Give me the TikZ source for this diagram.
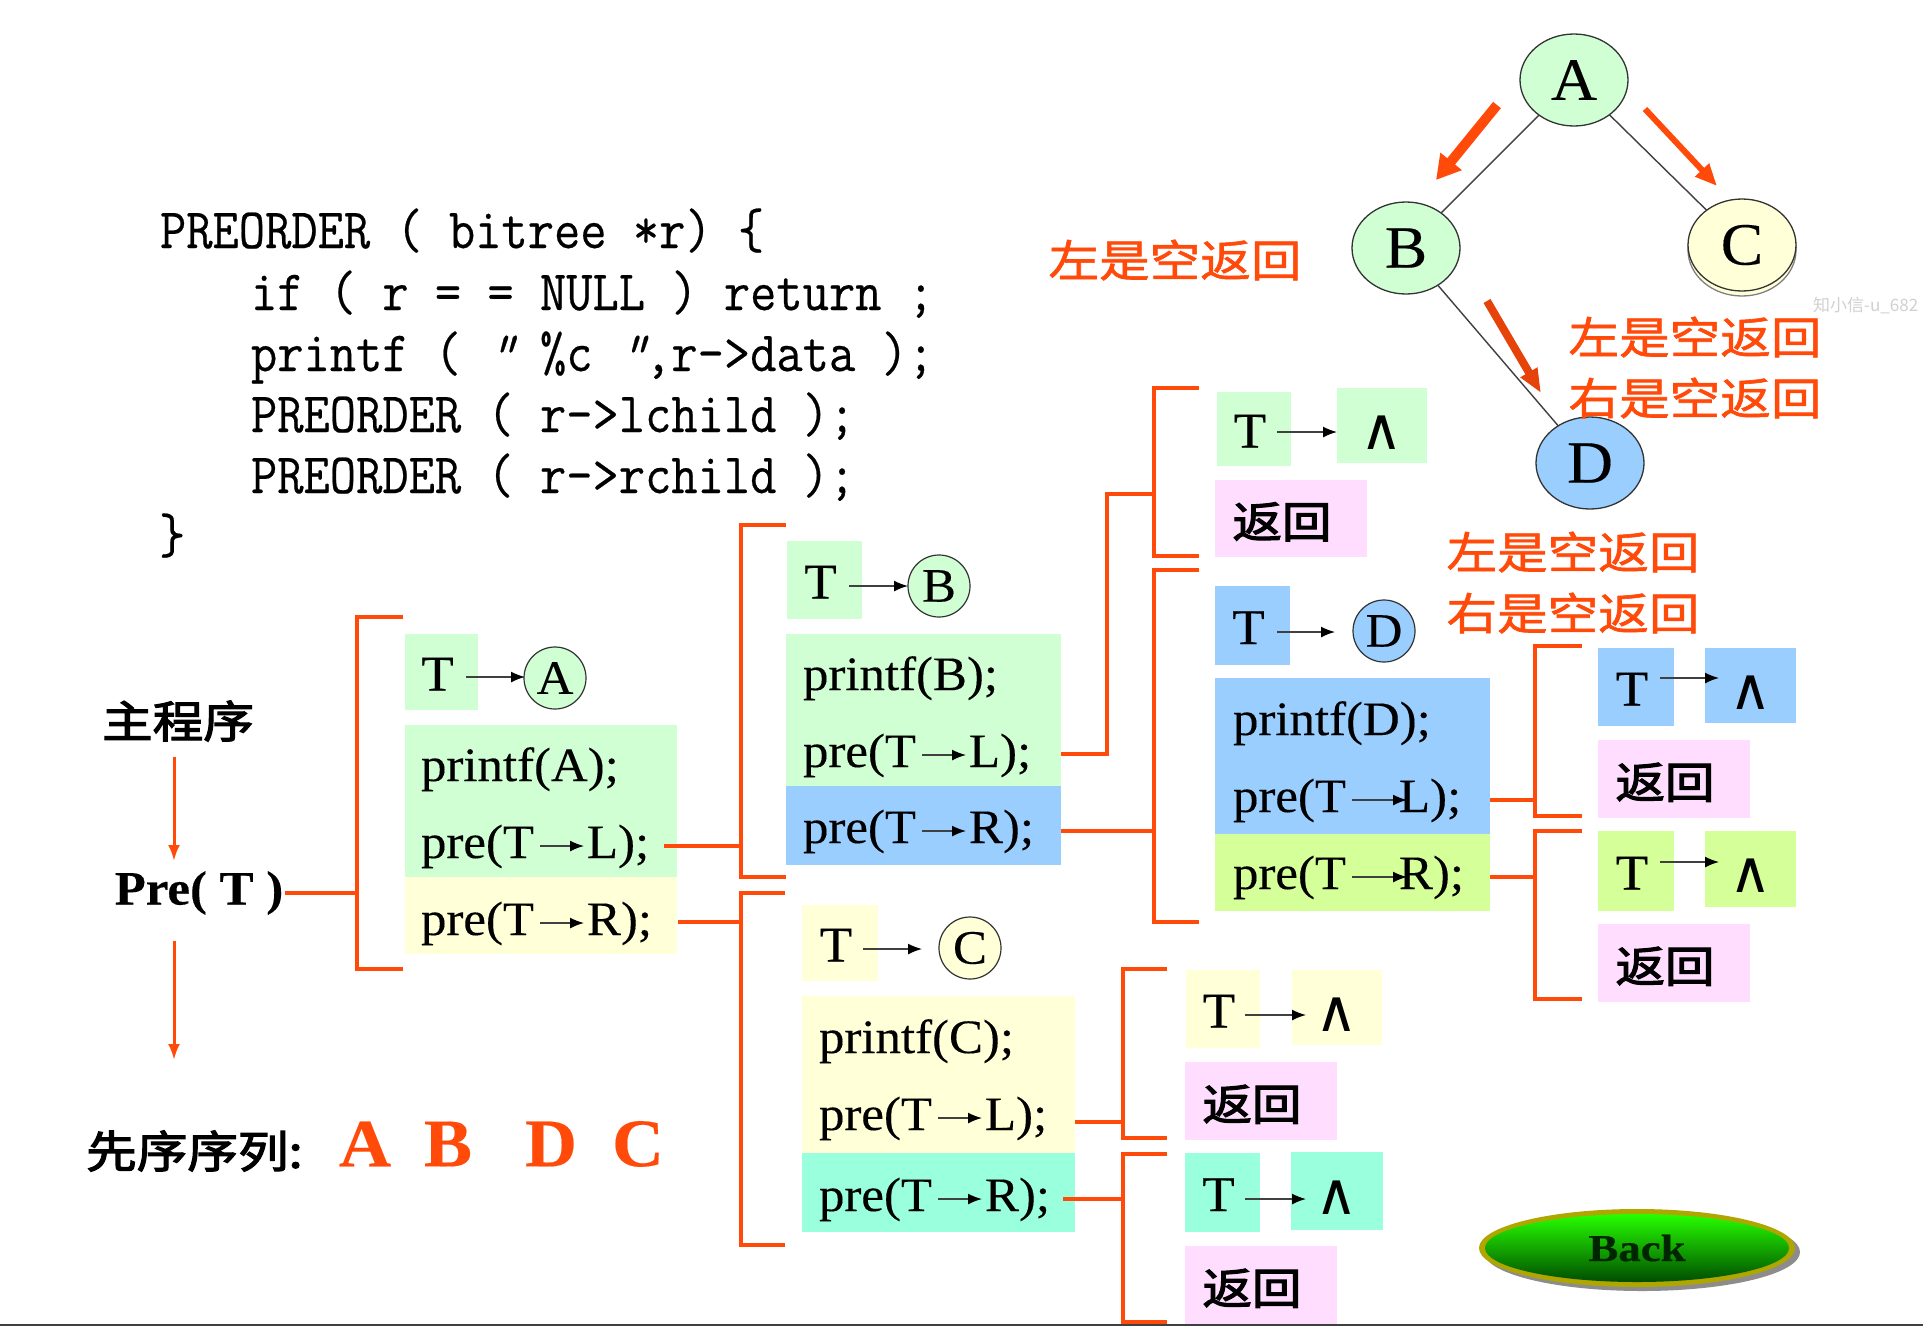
\documentclass[tikz,border=0pt]{standalone}
\usepackage{fontspec}
\usetikzlibrary{arrows.meta,shapes.geometric}
\setmainfont[FakeStretch=1.06,FakeBold=0.25]{Liberation Serif}
\newfontfamily\cjk[FakeStretch=1.15,FakeBold=1.4]{Noto Sans CJK SC}
\newfontfamily\cjkb[FakeStretch=1.15,FakeBold=2.8]{Noto Sans CJK SC}
\newfontfamily\wmfont{Noto Sans CJK SC}
\newfontfamily\codefont[FakeStretch=0.895,FakeBold=0.4]{Latin Modern Mono}
\newfontfamily\logicfont{DejaVu Sans}
\newfontfamily\backfont[FakeStretch=1.18,FakeBold=0.5]{Liberation Serif}
\newcommand\fs[1]{\fontsize{#1}{#1}\selectfont}
\definecolor{cgreen}{HTML}{D0FFD4}
\definecolor{cblue}{HTML}{99CEFF}
\definecolor{cyellow}{HTML}{FFFFD8}
\definecolor{cpink}{HTML}{FFDDFF}
\definecolor{cteal}{HTML}{99FFDD}
\definecolor{clime}{HTML}{D4FF99}
\definecolor{corange}{HTML}{FF4A0A}
\tikzset{
  txt/.style={anchor=base west,inner sep=0pt,outer sep=0pt,font=\fs{48}},
  code/.style={anchor=base west,inner sep=0pt,outer sep=0pt,font=\codefont\fs{57}},
  blockbox/.style={rectangle,inner sep=0pt,outer sep=0pt,draw=none},
  ltr/.style={font=\fs{50}},
  lgc/.style={font=\logicfont\fs{58}},
  ret/.style={font=\cjkb\fs{43}},
  redtxt/.style={font=\cjk\fs{44},text=corange,inner sep=0pt},
  blacktxt/.style={font=\cjkb\fs{44},text=black,inner sep=0pt},
  treenode/.style={ellipse,draw=black!80,line width=1.3pt,inner sep=0pt,outer sep=0pt,minimum width=108pt,minimum height=92pt,font=\fs{60}},
  smallnode/.style={ellipse,draw=black!80,line width=1.2pt,inner sep=0pt,outer sep=0pt,minimum width=62pt,minimum height=62pt,font=\fs{48}},
  treeedge/.style={draw=black!75,line width=1.4pt},
  tarr/.style={draw=black!75,line width=1.5pt,-{Latex[length=14pt,width=11pt,color=black]}},
  brk/.style={draw=corange,line width=3.5pt,line join=miter},
  flowarr/.style={draw=corange,line width=3pt,-{Latex[length=16pt,width=12pt]}},
}
% box node from corner coordinates
\newcommand\boxn[7]{%
  \pgfmathsetmacro\bw{#4-#2}\pgfmathsetmacro\bh{#5-#3}%
  \node[blockbox,fill=#6,minimum width=\bw pt,minimum height=\bh pt,#7] (#1) at ({(#2+#4)/2},{(#3+#5)/2})}
\newcommand\tarrow[4]{%
  \coordinate (#1s) at (#2,#4);\coordinate (#1e) at (#3,#4);\draw[tarr] (#1s) -- (#1e);}
\newcommand\preline[5]{%
  \node[txt] (#1a) at (#2,#3) {pre(T};
  \node[txt] (#1b) at ({#2+166},#3) {#4);};
  \coordinate (#1s) at ({#2+119},{#3-12});\coordinate (#1e) at ({#2+#5},{#3-12});
  \draw[tarr] (#1s) -- (#1e);}
\newcommand\brk[5]{%
  \coordinate (#1a) at (#5,#3);\coordinate (#1b) at (#2,#3);\coordinate (#1c) at (#2,#4);\coordinate (#1d) at (#5,#4);
  \draw[brk] (#1a) -- (#1b) -- (#1c) -- (#1d);}
\newcommand\stm[4]{%
  \coordinate (#1a) at (#2,#4);\coordinate (#1b) at (#3,#4);\draw[brk] (#1a) -- (#1b);}
\newcommand\retxt{\hspace*{-18pt}\rule{0pt}{42pt}返回}
\newcommand\ttxt{\hspace*{-8pt}\rule{0pt}{37pt}T}
\newcommand\nulltxt{\rule{0pt}{47pt}∧}
\begin{document}
\begin{tikzpicture}[x=1pt,y=-1pt]
\useasboundingbox[fill=white] (0,0) rectangle (1923,1326);

% code
\node[code] (c1) at (160,248) {PREORDER ( bitree *r) \{};
\node[code] (c2) at (251,310) {if ( r = = NULL ) return ;};
\node[code] (c3) at (251,371) {printf ( {\addfontfeature{FakeSlant=0.3}"} \%c {\addfontfeature{FakeSlant=0.3}"},r->data );};
\node[code] (c4) at (251,432) {PREORDER ( r->lchild );};
\node[code] (c5) at (251,493) {PREORDER ( r->rchild );};
\node[code] (c6) at (159,553) {\}};

% tree
\node[treenode,fill=cyellow,draw=black!50] (Cs) at (1742,250) {};
\node[treenode,fill=cgreen] (A) at (1574,80) {A};
\node[treenode,fill=cgreen] (B) at (1406,248) {B};
\node[treenode,fill=cyellow] (C) at (1742,245) {C};
\node[treenode,fill=cblue] (D) at (1590,463) {D};
\draw[treeedge] (A) -- (B);
\draw[treeedge] (A) -- (C);
\draw[treeedge] (B) -- (D);
\coordinate (r1s) at (1497,105);\coordinate (r1e) at (1436,180);
\coordinate (r2s) at (1645,109);\coordinate (r2e) at (1717,186);
\coordinate (r3s) at (1487,301);\coordinate (r3e) at (1541,393);
\draw[draw=corange,line width=10pt,-{Triangle[length=24pt,width=26pt]}] (r1s) -- (r1e);
\draw[draw=corange,line width=6pt,-{Triangle[length=22pt,width=18pt]}] (r2s) -- (r2e);
\draw[draw=black!10!corange,line width=8pt,-{Triangle[length=24pt,width=18pt]}] (r3s) -- (r3e);

\node[redtxt] (n1) at (1175,260) {左是空返回};
\node[redtxt] (n2) at (1695,337) {左是空返回};
\node[redtxt] (n3) at (1695,398) {右是空返回};
\node[redtxt] (n4) at (1573,552) {左是空返回};
\node[redtxt] (n5) at (1573,613) {右是空返回};
\node[anchor=west,inner sep=0pt,text=black!18,font=\wmfont\fs{17}] (wm) at (1813,306) {知小信-u\_682};

% main column
\node[blacktxt] (main) at (178,721) {主程序};
\node[inner sep=0pt,outer sep=0pt,font=\bfseries\fs{48}] (pre) at (199,893) {Pre( T )};
\coordinate (f1s) at (174,757);\coordinate (f1e) at (174,861);
\coordinate (f2s) at (174,941);\coordinate (f2e) at (174,1060);
\draw[flowarr] (f1s) -- (f1e);
\draw[flowarr] (f2s) -- (f2e);
\node[blacktxt,anchor=west] (seq) at (86,1151) {先序序列:};
\node[inner sep=0pt,text=corange,font=\bfseries\fs{68}] (sA) at (365,1144) {A};
\node[inner sep=0pt,text=corange,font=\bfseries\fs{68}] (sB) at (448,1144) {B};
\node[inner sep=0pt,text=corange,font=\bfseries\fs{68}] (sD) at (551,1144) {D};
\node[inner sep=0pt,text=corange,font=\bfseries\fs{68}] (sC) at (638,1144) {C};

% panel A
\stm{s0}{285}{357}{893}
\brk{b0}{357}{617}{969}{403}
\boxn{tA}{405}{634}{478}{710}{cgreen}{ltr} {\ttxt};
\node[smallnode,fill=cgreen] (cA) at (555,678) {A};
\boxn{pA}{405}{725}{677}{877}{cgreen}{} {};
\boxn{qA}{405}{877}{677}{954}{cyellow}{} {};
\tarrow{aA}{466}{525}{677}
\node[txt] (pA1) at (421,781) {printf(A);};
\preline{pA2}{421}{858}{L}{163}
\preline{pA3}{421}{935}{R}{163}

% panel B
\stm{s1}{664}{741}{846}
\brk{b1}{741}{525}{877}{786}
\boxn{tB}{787}{541}{862}{619}{cgreen}{ltr} {\ttxt};
\node[smallnode,fill=cgreen] (cB) at (939,586) {B};
\boxn{pB}{786}{634}{1061}{786}{cgreen}{} {};
\boxn{qB}{786}{786}{1061}{865}{cblue}{} {};
\tarrow{aB}{849}{908}{586}
\node[txt] (pB1) at (803,690) {printf(B);};
\preline{pB2}{803}{767}{L}{163}
\preline{pB3}{803}{843}{R}{163}

% panel C
\stm{s2}{678}{741}{922}
\brk{b2}{741}{893}{1245}{785}
\boxn{tC}{802}{905}{878}{981}{cyellow}{ltr} {\ttxt};
\node[smallnode,fill=cyellow] (cC) at (970,948) {C};
\boxn{pC}{802}{996}{1075}{1153}{cyellow}{} {};
\boxn{qC}{802}{1153}{1075}{1232}{cteal}{} {};
\tarrow{aC}{863}{922}{949}
\node[txt] (pC1) at (819,1053) {printf(C);};
\preline{pC2}{819}{1130}{L}{163}
\preline{pC3}{819}{1211}{R}{163}

% B's left child: null
\coordinate (s3a) at (1061,754);\coordinate (s3b) at (1107,754);\coordinate (s3c) at (1107,494);\coordinate (s3d) at (1154,494);
\draw[brk] (s3a) -- (s3b) -- (s3c) -- (s3d);
\brk{b3}{1154}{388}{556}{1199}
\boxn{tB1}{1217}{392}{1291}{466}{cgreen}{ltr} {\ttxt};
\boxn{lB1}{1337}{388}{1427}{463}{cgreen}{lgc} {\nulltxt};
\boxn{rB1}{1215}{480}{1367}{557}{cpink}{ret} {\retxt};
\tarrow{aB1}{1277}{1337}{432}

% panel D
\stm{s4}{1061}{1154}{831}
\brk{b4}{1154}{570}{922}{1199}
\boxn{tD}{1215}{586}{1290}{665}{cblue}{ltr} {\ttxt};
\node[smallnode,fill=cblue] (cD) at (1384,631) {D};
\boxn{pD}{1215}{678}{1490}{834}{cblue}{} {};
\boxn{qD}{1215}{834}{1490}{911}{clime}{} {};
\tarrow{aD}{1277}{1335}{632}
\node[txt] (pD1) at (1233,735) {printf(D);};
\preline{pD2}{1233}{812}{L}{174}
\preline{pD3}{1233}{889}{R}{174}

% D children
\stm{s5}{1490}{1535}{800}
\brk{b5}{1535}{646}{816}{1582}
\boxn{tD1}{1598}{648}{1674}{726}{cblue}{ltr} {\ttxt};
\boxn{lD1}{1705}{648}{1796}{723}{cblue}{lgc} {\nulltxt};
\boxn{rD1}{1598}{740}{1750}{818}{cpink}{ret} {\retxt};
\tarrow{aD1}{1660}{1719}{678}
\stm{s6}{1490}{1535}{877}
\brk{b6}{1535}{831}{999}{1582}
\boxn{tD2}{1598}{831}{1674}{911}{clime}{ltr} {\ttxt};
\boxn{lD2}{1705}{831}{1796}{907}{clime}{lgc} {\nulltxt};
\boxn{rD2}{1598}{924}{1750}{1002}{cpink}{ret} {\retxt};
\tarrow{aD2}{1660}{1719}{862}

% C children
\stm{s7}{1075}{1123}{1122}
\brk{b7}{1123}{969}{1138}{1167}
\boxn{tC1}{1186}{970}{1260}{1048}{cyellow}{ltr} {\ttxt};
\boxn{lC1}{1292}{970}{1382}{1045}{cyellow}{lgc} {\nulltxt};
\boxn{rC1}{1185}{1062}{1337}{1140}{cpink}{ret} {\retxt};
\tarrow{aC1}{1245}{1306}{1015}
\stm{s8}{1063}{1123}{1199}
\brk{b8}{1123}{1154}{1322}{1167}
\boxn{tC2}{1185}{1153}{1260}{1232}{cteal}{ltr} {\ttxt};
\boxn{lC2}{1291}{1152}{1383}{1230}{cteal}{lgc} {\nulltxt};
\boxn{rC2}{1185}{1246}{1337}{1324}{cpink}{ret} {\retxt};
\tarrow{aC2}{1245}{1306}{1199}

% Back button
\node[ellipse,fill=black!45,inner sep=0pt,minimum width=316pt,minimum height=78pt] (bks) at (1642,1252) {};
\node[ellipse,fill=olive!70!yellow,inner sep=0pt,minimum width=316pt,minimum height=78pt] (bkr) at (1637,1248) {};
\node[ellipse,top color=green!85!yellow,middle color=green!60!black,bottom color=green!30!black,inner sep=0pt,minimum width=304pt,minimum height=68pt,text=green!15!black,font=\backfont\bfseries\fs{38}] (bk) at (1637,1248) {Back};

% bottom edge
\coordinate (ln1) at (0,1325);\coordinate (ln2) at (1923,1325);
\draw[draw=black!75,line width=2pt] (ln1) -- (ln2);
\end{tikzpicture}
\end{document}
